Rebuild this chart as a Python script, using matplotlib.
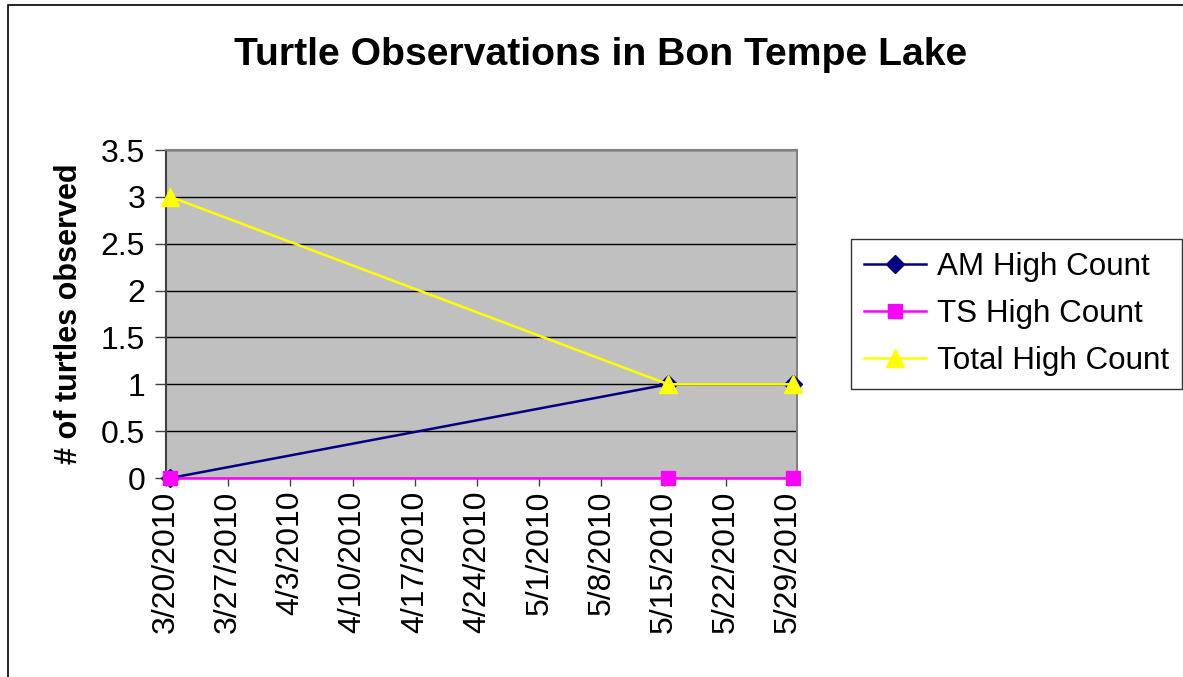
import matplotlib
matplotlib.use("Agg")
import matplotlib.pyplot as plt
from matplotlib.patches import Rectangle
from datetime import datetime, timedelta

# Data
dates = ["2010-03-20", "2010-05-15", "2010-05-29"]
am_high = [0, 1, 1]
ts_high = [0, 0, 0]
total_high = [3, 1, 1]
series_labels = ["AM High Count", "TS High Count", "Total High Count"]
title = "Turtle Observations in Bon Tempe Lake"
ylabel = "# of turtles observed"

plt.rcParams['font.family'] = ['Liberation Sans', 'DejaVu Sans']

fig = plt.figure(figsize=(11.83, 6.77), dpi=100)
W, H = 1183, 677
ax = fig.add_axes([166 / W, 1 - 478 / H, (797 - 166) / W, (478 - 150) / H])
ax.set_facecolor("#C0C0C0")

d = [datetime.strptime(s, "%Y-%m-%d") + timedelta(hours=12) for s in dates]

ax.plot(d, am_high, color="#000080", lw=1.8, marker="D", ms=9,
        mfc="#000080", mec="#000080", label=series_labels[0], clip_on=False, zorder=4)
ax.plot(d, ts_high, color="#FF00FF", lw=1.8, marker="s", ms=10,
        mfc="#FF00FF", mec="#FF00FF", label=series_labels[1], clip_on=False, zorder=5)
ax.plot(d, total_high, color="#FFFF00", lw=1.8, marker="^", ms=12.5,
        mfc="#FFFF00", mec="#FFFF00", label=series_labels[2], clip_on=False, zorder=6)

start = datetime(2010, 3, 20)
ax.set_xlim(start, datetime(2010, 5, 30))
ticks = [start + timedelta(days=7 * i) for i in range(11)]
ax.set_xticks(ticks)
ax.set_xticklabels([f"{t.month}/{t.day}/{t.year}" for t in ticks], rotation=90, fontsize=23)
ax.set_ylim(0, 3.5)
ax.set_yticks([0, 0.5, 1, 1.5, 2, 2.5, 3, 3.5])
ax.set_yticklabels(["0", "0.5", "1", "1.5", "2", "2.5", "3", "3.5"], fontsize=23)
ax.yaxis.grid(True, color="black", lw=1)
ax.set_axisbelow(True)
ax.tick_params(axis="x", direction="out", length=6, width=1, color="#404040", pad=3)
ax.tick_params(axis="y", direction="out", length=8, width=1, color="#404040", pad=7)

for s in ["top", "right"]:
    ax.spines[s].set_color("#808080")
    ax.spines[s].set_linewidth(1.5)
ax.spines["left"].set_color("#404040")
ax.spines["left"].set_linewidth(1.5)
ax.spines["bottom"].set_color("#404040")

ax.set_ylabel(ylabel, fontsize=22, fontweight="bold", labelpad=12)
fig.text(601 / W, 1 - 55 / H, title, ha="center", va="center", fontsize=28.2, fontweight="bold")

leg = ax.legend(loc="upper left", bbox_to_anchor=(851 / W, 1 - 239 / H), bbox_transform=fig.transFigure,
                fontsize=22.6, frameon=True, fancybox=False, shadow=False, handlelength=2.0,
                handletextpad=0.35, labelspacing=0.55, borderpad=0.4, borderaxespad=0, numpoints=1)
leg.get_frame().set_edgecolor("black")
leg.get_frame().set_linewidth(1)

fig.patches.append(Rectangle((8 / W, -0.1), 1.2, (1 - 5 / H) + 0.1, transform=fig.transFigure,
                             fill=False, edgecolor="black", lw=1.2))

fig.savefig("out.png", dpi=100)
